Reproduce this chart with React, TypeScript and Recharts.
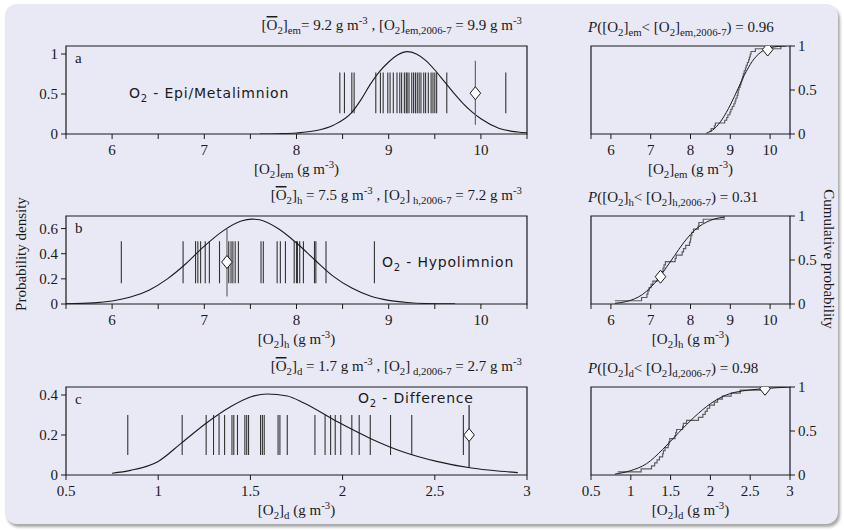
import React from "react";
import { ComposedChart, Line, XAxis, YAxis, Scatter, ReferenceLine, ReferenceArea } from "recharts";

const SERIF = '"Liberation Serif", "Times New Roman", serif';
const SANS = '"DejaVu Sans", sans-serif';
const BG = "#e9e9f6";
const INK = "#1a1a1a";

// observed values (rug lines)
const obsEm = [8.47, 8.52, 8.6, 8.625, 8.86, 8.91, 8.94, 8.99, 9.015, 9.05, 9.09, 9.12, 9.14, 9.17, 9.19, 9.2, 9.22, 9.25, 9.27, 9.29, 9.31, 9.33, 9.35, 9.38, 9.4, 9.43, 9.46, 9.48, 9.5, 9.52, 9.63, 10.27];
const obsH = [6.1, 6.77, 6.905, 6.93, 6.96, 7.01, 7.055, 7.165, 7.265, 7.29, 7.31, 7.335, 7.37, 7.615, 7.64, 7.79, 7.825, 7.88, 7.975, 8.0, 8.01, 8.035, 8.075, 8.195, 8.21, 8.32, 8.845];
const obsD = [0.835, 1.13, 1.26, 1.3, 1.33, 1.36, 1.4, 1.41, 1.43, 1.47, 1.48, 1.49, 1.555, 1.565, 1.575, 1.65, 1.66, 1.7, 1.85, 1.905, 1.935, 1.96, 1.99, 2.05, 2.09, 2.15, 2.26, 2.375, 2.655];

// 2006-7 values
const mark = { em: 9.94, h: 7.246, d: 2.686 };
const markP = { em: 0.96, h: 0.31, d: 0.98 };

// fitted density curves
const densEmX = [7.6, 7.8, 8.0, 8.2, 8.4, 8.6, 8.7, 8.8, 8.9, 9.0, 9.1, 9.2, 9.3, 9.4, 9.5, 9.6, 9.7, 9.8, 9.9, 10.0, 10.2, 10.4, 10.5];
const densEmY = [0.0, 0.004, 0.013, 0.04, 0.11, 0.27, 0.43, 0.62, 0.78, 0.9, 0.99, 1.03, 1.0, 0.92, 0.8, 0.66, 0.52, 0.39, 0.28, 0.19, 0.07, 0.025, 0.015];
const densHX = [5.5, 5.8, 6.0, 6.2, 6.4, 6.6, 6.8, 7.0, 7.2, 7.4, 7.52, 7.6, 7.8, 8.0, 8.2, 8.4, 8.6, 8.8, 9.0, 9.2, 9.4, 9.72];
const densHY = [0.002, 0.009, 0.024, 0.055, 0.11, 0.2, 0.32, 0.46, 0.58, 0.66, 0.675, 0.67, 0.6, 0.485, 0.35, 0.22, 0.127, 0.064, 0.029, 0.012, 0.004, 0.001];
const densDX = [0.75, 0.85, 1.0, 1.13, 1.26, 1.39, 1.5, 1.59, 1.7, 1.79, 1.97, 2.15, 2.33, 2.51, 2.69, 2.855, 2.95];
const densDY = [0.009, 0.023, 0.068, 0.163, 0.259, 0.34, 0.39, 0.405, 0.395, 0.36, 0.267, 0.183, 0.115, 0.068, 0.036, 0.019, 0.012];

// fitted cumulative curves
const cdfEmX = [8.4, 8.6, 8.8, 9.0, 9.2, 9.4, 9.6, 9.8, 10.0, 10.2, 10.4];
const cdfEmY = [0.01, 0.06, 0.17, 0.33, 0.52, 0.71, 0.855, 0.94, 0.98, 0.995, 1.0];
const cdfHX = [6.1, 6.4, 6.6, 6.8, 7.0, 7.2, 7.4, 7.6, 7.8, 8.0, 8.2, 8.4, 8.6, 8.85];
const cdfHY = [0.008, 0.029, 0.06, 0.11, 0.19, 0.29, 0.42, 0.55, 0.68, 0.79, 0.875, 0.93, 0.966, 0.988];
const cdfDX = [0.8, 1.0, 1.2, 1.4, 1.6, 1.8, 2.0, 2.2, 2.4, 2.6, 2.8, 3.0];
const cdfDY = [0.01, 0.05, 0.13, 0.29, 0.48, 0.66, 0.81, 0.91, 0.955, 0.975, 0.99, 1.0];

const ticksO2 = [5.5, 6, 6.5, 7, 7.5, 8, 8.5, 9, 9.5, 10, 10.5];
const ticksO2Right = [5.5, 6, 7, 8, 9, 10, 10.5];
const ticksD = [0.5, 1, 1.5, 2, 2.5, 3];

const pts = (xs: number[], ys: number[]) => xs.map((x, i) => ({ x, y: ys[i] }));
const ecdf = (obs: number[]) => [...obs].sort((a, b) => a - b).map((x, i, a) => ({ x, y: (i + 1) / a.length }));
const intOnly = (v: number) => (Number.isInteger(v) ? String(v) : "");
const plain = (v: number) => String(v);

const LEFT_X = 66;
const LEFT_W = 461;
const RIGHT_X = 591;
const RIGHT_W = 199;
const BOX_H = 88;
const ROWS = [46, 216, 387];
const PAD = 12;

// ticks drawn by hand so the serif font sticks
const xTick = (fmt: (v: number) => string) => (p: any) => (
  <text x={p.x} y={p.y} dy="0.71em" textAnchor="middle" fontFamily={SERIF} fontSize={15} fill={INK}>
    {fmt(p.payload.value)}
  </text>
);
const yTick = (p: any) => (
  <text x={p.x} y={p.y} dy="0.355em" textAnchor={p.textAnchor} fontFamily={SERIF} fontSize={15} fill={INK}>
    {String(p.payload.value)}
  </text>
);

const Diamond = (p: any) => {
  const { cx, cy } = p;
  return (
    <polygon
      points={`${cx},${cy - 6.5} ${cx + 5.3},${cy} ${cx},${cy + 6.5} ${cx - 5.3},${cy}`}
      fill="#fff"
      stroke={INK}
      strokeWidth={1}
    />
  );
};

function DensityPanel(props: any) {
  const { top, xDom, xTicks, fmt, yDom, yTicks, curve, obs, rug, mx, mLine, mY, mColor } = props;
  return (
    <div style={{ position: "absolute", left: LEFT_X - 40, top: top - PAD }}>
      <ComposedChart width={40 + LEFT_W + 12} height={PAD + BOX_H + 30} margin={{ top: PAD, right: 12, bottom: 0, left: 0 }}>
        <XAxis type="number" dataKey="x" domain={xDom} ticks={xTicks} allowDataOverflow
          axisLine={false} tickLine={{ stroke: INK }} tickSize={5} tickMargin={5} tick={xTick(fmt)} interval={0} height={30} />
        <YAxis type="number" dataKey="y" domain={yDom} ticks={yTicks} allowDataOverflow axisLine={false}
          tickLine={{ stroke: INK }} tickSize={5} tickMargin={3} tick={yTick} interval={0} width={40} />
        <ReferenceArea x1={xDom[0]} x2={xDom[1]} y1={yDom[0]} y2={yDom[1]} fill="none" fillOpacity={0}
          stroke={INK} strokeWidth={1.2} ifOverflow="visible" />
        {obs.map((v: number, i: number) => (
          <ReferenceLine key={i} segment={[{ x: v, y: rug[0] }, { x: v, y: rug[1] }]} stroke="#333" strokeWidth={1.1} ifOverflow="visible" />
        ))}
        <Line data={curve} dataKey="y" type="monotone" stroke={INK} strokeWidth={1.1} dot={false} isAnimationActive={false} />
        <ReferenceLine segment={[{ x: mx, y: mLine[0] }, { x: mx, y: mLine[1] }]} stroke={mColor} strokeWidth={1.2} ifOverflow="visible" />
        <Scatter data={[{ x: mx, y: mY }]} shape={Diamond} isAnimationActive={false} />
      </ComposedChart>
    </div>
  );
}

function CdfPanel(props: any) {
  const { top, xDom, xTicks, fmt, curve, steps, mx, mY } = props;
  return (
    <div style={{ position: "absolute", left: RIGHT_X - 15, top: top - PAD }}>
      <ComposedChart width={15 + RIGHT_W + 40} height={PAD + BOX_H + 30} margin={{ top: PAD, right: 0, bottom: 0, left: 15 }}>
        <XAxis type="number" dataKey="x" domain={xDom} ticks={xTicks} allowDataOverflow
          axisLine={false} tickLine={{ stroke: INK }} tickSize={5} tickMargin={5} tick={xTick(fmt)} interval={0} height={30} />
        <YAxis type="number" dataKey="y" orientation="right" domain={[0, 1]} ticks={[0, 0.5, 1]} allowDataOverflow axisLine={false}
          tickLine={{ stroke: INK }} tickSize={5} tickMargin={3} tick={yTick} interval={0} width={40} />
        <ReferenceArea x1={xDom[0]} x2={xDom[1]} y1={0} y2={1} fill="none" fillOpacity={0}
          stroke={INK} strokeWidth={1.2} ifOverflow="visible" />
        <Line data={steps} dataKey="y" type="stepAfter" stroke="#5e5e5e" strokeWidth={1.2} dot={false} isAnimationActive={false} />
        <Line data={curve} dataKey="y" type="monotone" stroke={INK} strokeWidth={1} dot={false} isAnimationActive={false} />
        <Scatter data={[{ x: mx, y: mY }]} shape={Diamond} isAnimationActive={false} />
      </ComposedChart>
    </div>
  );
}

type Part = [string, string?];

function Rich({ x, y, anchor = "start", size = 15, parts, family = SERIF, spacing = 0 }: { x: number; y: number; anchor?: string; size?: number; parts: Part[]; family?: string; spacing?: number }) {
  let shift = 0;
  return (
    <text x={x} y={y} textAnchor={anchor as any} fontFamily={family} fontSize={size} fill={INK} letterSpacing={spacing}>
      {parts.map(([t, k], i) => {
        const small = k === "sub" || k === "sup";
        const target = k === "sub" ? 4 : k === "sup" ? -6 : 0;
        const dy = target - shift;
        shift = target;
        return (
          <tspan key={i} dy={dy} fontSize={small ? size * 0.72 : size} fontStyle={k === "i" ? "italic" : undefined}
            style={k === "ol" ? { textDecoration: "overline" } : undefined}>
            {t}
          </tspan>
        );
      })}
    </text>
  );
}

const leftTitle = (s: string, mean: string, now: string, gap: string): Part[] => [
  ["["], ["O", "ol"], ["2", "sub"], ["]"], [s, "sub"], [gap + "= " + mean + " g m"], ["-3", "sup"],
  [" , [O"], ["2", "sub"], ["]"], [gap + s + ",2006-7", "sub"], [" = " + now + " g m"], ["-3", "sup"],
];
const rightTitle = (s: string, p: string): Part[] => [
  ["P", "i"], ["([O"], ["2", "sub"], ["]"], [s, "sub"], ["< [O"], ["2", "sub"], ["]"], [s + ",2006-7", "sub"], [") = " + p],
];
const axisTitle = (s: string): Part[] => [["[O"], ["2", "sub"], ["]"], [s, "sub"], [" (g m"], ["-3", "sup"], [")"]];

export default function App() {
  const [ra, rb, rc] = ROWS;
  return (
    <div style={{ position: "absolute", left: 0, top: 0, width: 844, height: 530, background: "#fff", overflow: "hidden" }}>
      <div style={{ position: "absolute", left: 5, top: 4, width: 833, height: 520, borderRadius: 12, background: BG, boxShadow: "2px 3px 3px rgba(0,0,0,0.35)" }} />

      <DensityPanel top={ra} xDom={[5.5, 10.5]} xTicks={ticksO2} fmt={intOnly} yDom={[0, 1.1]} yTicks={[0, 0.5, 1]}
        curve={pts(densEmX, densEmY)} obs={obsEm} rug={[0.26, 0.77]} mx={mark.em} mLine={[0.115, 0.917]} mY={0.51} mColor="#666" />
      <DensityPanel top={rb} xDom={[5.5, 10.5]} xTicks={ticksO2} fmt={intOnly} yDom={[0, 0.7]} yTicks={[0, 0.2, 0.4, 0.6]}
        curve={pts(densHX, densHY)} obs={obsH} rug={[0.165, 0.5]} mx={mark.h} mLine={[0.06, 0.6]} mY={0.334} mColor="#666" />
      <DensityPanel top={rc} xDom={[0.5, 3]} xTicks={ticksD} fmt={plain} yDom={[0, 0.44]} yTicks={[0, 0.2, 0.4]}
        curve={pts(densDX, densDY)} obs={obsD} rug={[0.1, 0.3]} mx={mark.d} mLine={[0.036, 0.35]} mY={0.2} mColor="#222" />

      <CdfPanel top={ra} xDom={[5.5, 10.5]} xTicks={ticksO2Right} fmt={intOnly} curve={pts(cdfEmX, cdfEmY)} steps={ecdf(obsEm)} mx={mark.em} mY={markP.em} />
      <CdfPanel top={rb} xDom={[5.5, 10.5]} xTicks={ticksO2Right} fmt={intOnly} curve={pts(cdfHX, cdfHY)} steps={ecdf(obsH)} mx={mark.h} mY={markP.h} />
      <CdfPanel top={rc} xDom={[0.5, 3]} xTicks={ticksD} fmt={plain} curve={pts(cdfDX, cdfDY)} steps={ecdf(obsD)} mx={mark.d} mY={markP.d} />

      <svg width={844} height={530} style={{ position: "absolute", left: 0, top: 0, pointerEvents: "none" }}>
        <Rich x={522} y={ra - 16} anchor="end" parts={leftTitle("em", "9.2", "9.9", "")} />
        <Rich x={522} y={rb - 16} anchor="end" parts={leftTitle("h", "7.5", "7.2", " ")} />
        <Rich x={522} y={rc - 16} anchor="end" parts={leftTitle("d", "1.7", "2.7", " ")} />

        <Rich x={588} y={ra - 14} parts={rightTitle("em", "0.96")} />
        <Rich x={588} y={rb - 14} parts={rightTitle("h", "0.31")} />
        <Rich x={588} y={rc - 14} parts={rightTitle("d", "0.98")} />

        <Rich x={LEFT_X + LEFT_W / 2} y={ra + BOX_H + 40} anchor="middle" parts={axisTitle("em")} />
        <Rich x={LEFT_X + LEFT_W / 2} y={rb + BOX_H + 40} anchor="middle" parts={axisTitle("h")} />
        <Rich x={LEFT_X + LEFT_W / 2} y={rc + BOX_H + 40} anchor="middle" parts={axisTitle("d")} />
        <Rich x={RIGHT_X + RIGHT_W / 2} y={ra + BOX_H + 40} anchor="middle" parts={axisTitle("em")} />
        <Rich x={RIGHT_X + RIGHT_W / 2} y={rb + BOX_H + 40} anchor="middle" parts={axisTitle("h")} />
        <Rich x={RIGHT_X + RIGHT_W / 2} y={rc + BOX_H + 40} anchor="middle" parts={axisTitle("d")} />

        <text x={75} y={ra + 17} fontFamily={SERIF} fontSize={15} fill={INK}>a</text>
        <text x={75} y={rb + 17} fontFamily={SERIF} fontSize={15} fill={INK}>b</text>
        <text x={75} y={rc + 17} fontFamily={SERIF} fontSize={15} fill={INK}>c</text>

        <text transform="translate(26,254) rotate(-90)" textAnchor="middle" fontFamily={SERIF} fontSize={15} fill={INK}>Probability density</text>
        <text transform="translate(824,259) rotate(90)" textAnchor="middle" fontFamily={SERIF} fontSize={15} fill={INK}>Cumulative probability</text>

        <Rich x={129} y={ra + 52} family={SANS} size={14} spacing={0.8} parts={[["O"], ["2", "sub"], [" - Epi/Metalimnion"]]} />
        <Rich x={382} y={rb + 51} family={SANS} size={14} spacing={0.8} parts={[["O"], ["2", "sub"], [" - Hypolimnion"]]} />
        <Rich x={358} y={rc + 16} family={SANS} size={14} spacing={0.8} parts={[["O"], ["2", "sub"], [" - Difference"]]} />
      </svg>
    </div>
  );
}
